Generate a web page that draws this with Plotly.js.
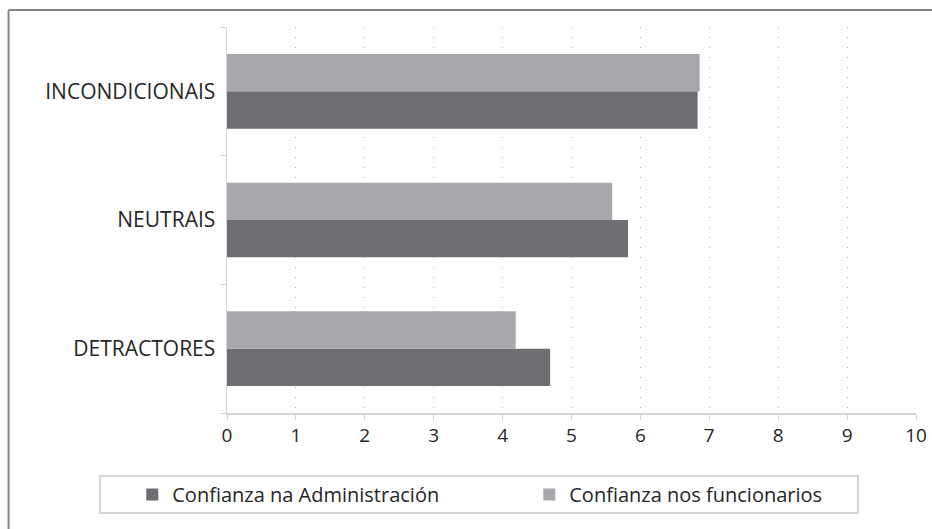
<!DOCTYPE html>
<html>
<head>
<meta charset="utf-8">
<script src="https://cdn.plot.ly/plotly-3.0.1.min.js"></script>
<style>html,body{margin:0;padding:0;background:#fff;}#chart{width:932px;height:529px;}</style>
</head>
<body>
<div id="chart"></div>
<script>
var categories = ['DETRACTORES', 'NEUTRAIS', 'INCONDICIONAIS'];
var seriesNames = ['Confianza na Administración', 'Confianza nos funcionarios'];
var administracion = [4.69, 5.82, 6.83];
var funcionarios = [4.19, 5.59, 6.86];
var xTicks = [0, 1, 2, 3, 4, 5, 6, 7, 8, 9, 10];

var FONT = '"Open Sans", "DejaVu Sans", sans-serif';

var traces = [
  {type: 'bar', orientation: 'h', name: seriesNames[0], y: categories, x: administracion,
   marker: {color: '#6d6e71'}, hoverinfo: 'x+y'},
  {type: 'bar', orientation: 'h', name: seriesNames[1], y: categories, x: funcionarios,
   marker: {color: '#a7a8ab'}, hoverinfo: 'x+y'}
];

var layout = {
  width: 932, height: 529,
  margin: {l: 227, r: 16, t: 27, b: 116, pad: 0},
  paper_bgcolor: '#ffffff', plot_bgcolor: '#ffffff',
  font: {family: FONT, size: 20, color: '#262626'},
  barmode: 'group', bargap: 0.42, bargroupgap: 0,
  xaxis: {
    range: [0, 10], tickvals: xTicks, ticktext: xTicks.map(String),
    showgrid: true, gridcolor: '#b4b4b4', griddash: '1px,9px', gridwidth: 1,
    zeroline: false, showline: true, linecolor: '#d4d4d4', linewidth: 1.5,
    ticks: 'outside', ticklen: 5, tickcolor: '#d4d4d4', tickwidth: 1,
    tickfont: {family: FONT, size: 19, color: '#262626'}, fixedrange: true
  },
  yaxis: {
    type: 'category', categoryorder: 'array', categoryarray: categories,
    showgrid: false, zeroline: false, showline: true, linecolor: '#d4d4d4', linewidth: 1.5,
    ticks: 'outside', tickson: 'boundaries', ticklen: 6, tickcolor: '#d4d4d4', tickwidth: 1,
    ticklabelstandoff: 6,
    tickfont: {family: FONT, size: 21, color: '#262626'}, fixedrange: true
  },
  showlegend: true,
  legend: {
    orientation: 'h', traceorder: 'normal',
    x: -0.1375, xanchor: 'left', y: -0.2111, yanchor: 'middle',
    entrywidth: 352, entrywidthmode: 'pixels',
    bgcolor: 'rgba(0,0,0,0)', borderwidth: 0,
    font: {family: FONT, size: 20, color: '#262626'}
  },
  shapes: [
    {type: 'rect', xref: 'paper', yref: 'paper', x0: -0.1843, x1: 0.9158, y0: -0.2591, y1: -0.1632,
     line: {color: '#c8c8c8', width: 1.5}, fillcolor: 'rgba(0,0,0,0)', layer: 'below'},
    {type: 'line', xref: 'paper', yref: 'paper', x0: -0.3170, x1: 1.05, y0: 1.0440, y1: 1.0440,
     line: {color: '#848484', width: 2}},
    {type: 'line', xref: 'paper', yref: 'paper', x0: -0.3170, x1: -0.3170, y0: 1.0440, y1: -0.35,
     line: {color: '#848484', width: 2}}
  ]
};

Plotly.newPlot('chart', traces, layout, {displayModeBar: false, staticPlot: true});
</script>
</body>
</html>
